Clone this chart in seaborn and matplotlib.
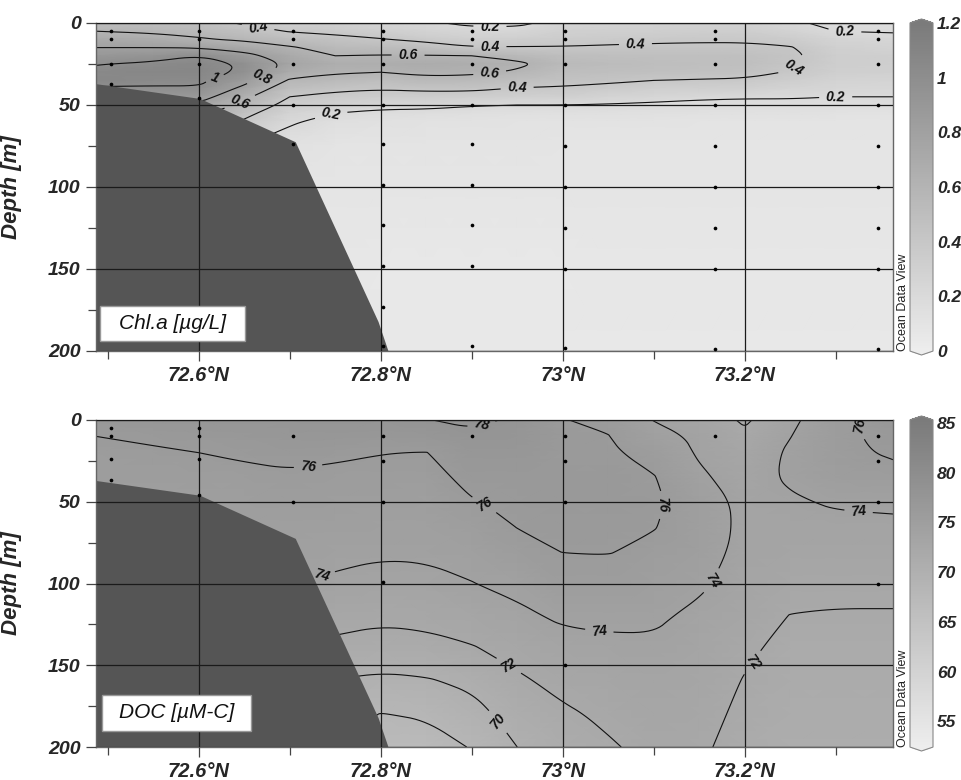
import numpy as np
import matplotlib
matplotlib.use('Agg')
import matplotlib.pyplot as plt
import seaborn as sns
from matplotlib.colors import LinearSegmentedColormap
from matplotlib.ticker import FuncFormatter
from matplotlib.patches import Rectangle
from matplotlib.path import Path

# Section grid: latitude (°N) of the profiles
grid_lat = [72.487, 72.55, 72.6, 72.65, 72.7, 72.75, 72.8, 72.85, 72.9,
            72.95, 73.0, 73.05, 73.1, 73.15, 73.2, 73.25, 73.3, 73.363]

# Chl.a [ug/L] profiles, one list per latitude, at chl_depth
chl_depth = [0, 5, 10, 15, 20, 25, 30, 35, 40, 45, 50, 55, 60, 75, 100, 150, 200]
chl_profiles = [
    [0.50, 0.60, 0.70, 0.80, 0.90, 0.99, 1.05, 1.06, 0.98, 0.88, 0.78, 0.68, 0.58, 0.40, 0.25, 0.12, 0.10],
    [0.50, 0.57, 0.68, 0.80, 0.93, 1.03, 1.07, 1.04, 0.98, 0.88, 0.78, 0.68, 0.58, 0.40, 0.25, 0.12, 0.10],
    [0.47, 0.54, 0.62, 0.79, 1.00, 1.06, 1.07, 1.04, 0.98, 0.88, 0.76, 0.65, 0.55, 0.38, 0.22, 0.10, 0.08],
    [0.38, 0.47, 0.57, 0.72, 0.86, 0.98, 0.97, 0.86, 0.75, 0.64, 0.55, 0.45, 0.38, 0.20, 0.12, 0.08, 0.07],
    [0.32, 0.39, 0.50, 0.62, 0.70, 0.75, 0.68, 0.58, 0.48, 0.40, 0.33, 0.27, 0.22, 0.12, 0.09, 0.07, 0.07],
    [0.30, 0.36, 0.45, 0.53, 0.60, 0.66, 0.62, 0.53, 0.43, 0.36, 0.29, 0.20, 0.15, 0.10, 0.08, 0.07, 0.07],
    [0.25, 0.32, 0.41, 0.52, 0.61, 0.67, 0.60, 0.50, 0.41, 0.34, 0.24, 0.17, 0.13, 0.10, 0.08, 0.06, 0.06],
    [0.22, 0.28, 0.36, 0.48, 0.61, 0.68, 0.64, 0.55, 0.43, 0.34, 0.24, 0.16, 0.12, 0.10, 0.08, 0.06, 0.06],
    [0.17, 0.24, 0.32, 0.41, 0.60, 0.66, 0.63, 0.54, 0.43, 0.33, 0.21, 0.15, 0.12, 0.10, 0.08, 0.06, 0.06],
    [0.17, 0.24, 0.33, 0.41, 0.55, 0.63, 0.58, 0.49, 0.39, 0.30, 0.20, 0.14, 0.11, 0.10, 0.08, 0.06, 0.06],
    [0.25, 0.30, 0.35, 0.41, 0.50, 0.53, 0.50, 0.45, 0.38, 0.30, 0.20, 0.14, 0.11, 0.09, 0.08, 0.06, 0.06],
    [0.27, 0.31, 0.36, 0.42, 0.49, 0.52, 0.49, 0.43, 0.35, 0.27, 0.19, 0.14, 0.11, 0.09, 0.08, 0.07, 0.06],
    [0.28, 0.32, 0.37, 0.43, 0.48, 0.50, 0.47, 0.40, 0.32, 0.24, 0.18, 0.14, 0.11, 0.09, 0.08, 0.07, 0.06],
    [0.28, 0.33, 0.38, 0.43, 0.48, 0.49, 0.46, 0.39, 0.31, 0.22, 0.17, 0.13, 0.10, 0.09, 0.08, 0.07, 0.06],
    [0.28, 0.33, 0.38, 0.43, 0.47, 0.48, 0.45, 0.38, 0.30, 0.21, 0.17, 0.13, 0.10, 0.09, 0.08, 0.07, 0.06],
    [0.22, 0.28, 0.35, 0.41, 0.43, 0.42, 0.39, 0.33, 0.27, 0.21, 0.17, 0.13, 0.10, 0.09, 0.08, 0.07, 0.06],
    [0.17, 0.20, 0.26, 0.30, 0.33, 0.33, 0.31, 0.28, 0.24, 0.20, 0.16, 0.12, 0.10, 0.09, 0.08, 0.07, 0.06],
    [0.15, 0.19, 0.24, 0.28, 0.31, 0.32, 0.30, 0.27, 0.23, 0.20, 0.16, 0.12, 0.10, 0.09, 0.08, 0.07, 0.06],
]

# DOC [uM-C] profiles, one list per latitude, at doc_depth
doc_depth = [0, 10, 20, 35, 50, 65, 80, 100, 120, 140, 160, 180, 200]
doc_profiles = [
    [77.0, 76.0, 75.6, 75.3, 75.0, 74.8, 74.6, 74.3, 73.5, 72.5, 71.5, 70.5, 70.0],
    [77.2, 76.4, 75.7, 75.3, 75.0, 74.8, 74.6, 74.2, 73.5, 72.5, 71.5, 70.5, 70.0],
    [77.3, 76.7, 76.0, 75.4, 75.1, 74.85, 74.6, 74.2, 73.4, 72.4, 71.4, 70.4, 69.8],
    [77.4, 76.9, 76.3, 75.5, 75.2, 74.9, 74.6, 74.1, 73.3, 72.2, 71.2, 70.2, 69.5],
    [77.5, 77.1, 76.6, 75.7, 75.3, 75.0, 74.6, 74.05, 73.1, 71.8, 70.6, 69.5, 68.8],
    [77.6, 77.1, 76.3, 75.6, 75.2, 74.9, 74.5, 73.7, 72.7, 71.5, 69.9, 68.6, 68.0],
    [77.5, 77.0, 76.05, 75.5, 75.1, 74.7, 74.25, 73.4, 72.4, 71.1, 69.6, 67.95, 67.0],
    [77.95, 77.2, 75.95, 75.4, 75.0, 74.65, 74.3, 73.5, 72.6, 71.3, 69.8, 68.2, 67.2],
    [78.3, 77.7, 77.2, 76.5, 75.9, 75.2, 74.6, 73.95, 72.9, 71.85, 70.4, 69.3, 68.1],
    [77.8, 77.5, 77.1, 76.7, 76.35, 76.05, 75.5, 74.5, 73.6, 72.6, 71.7, 70.8, 70.0],
    [76.05, 76.2, 76.35, 76.5, 76.5, 76.3, 76.05, 75.3, 74.3, 73.3, 72.5, 71.7, 71.2],
    [75.7, 76.05, 76.3, 76.5, 76.55, 76.4, 76.1, 75.3, 74.4, 73.6, 72.9, 72.35, 71.8],
    [73.95, 74.6, 75.3, 76.1, 76.3, 76.1, 75.6, 74.9, 74.3, 73.7, 73.2, 72.8, 72.5],
    [73.3, 73.7, 73.8, 74.3, 75.0, 75.0, 74.8, 74.3, 73.6, 73.2, 72.9, 72.6, 72.3],
    [71.7, 72.4, 72.8, 73.2, 73.5, 73.6, 73.5, 73.2, 72.8, 72.3, 71.9, 71.6, 71.3],
    [73.6, 73.95, 74.3, 74.3, 73.75, 73.4, 73.1, 72.6, 71.95, 71.5, 71.3, 71.1, 71.0],
    [75.3, 75.5, 75.6, 75.2, 74.25, 73.5, 73.1, 72.5, 71.85, 71.5, 71.3, 71.1, 71.0],
    [77.0, 76.6, 76.2, 75.5, 74.4, 73.6, 73.15, 72.5, 71.85, 71.5, 71.3, 71.1, 71.0],
]

# sea floor outline (lat, depth)
topo_lat = [72.487, 72.601, 72.706, 72.797, 72.808]
topo_depth = [37, 46, 72.4, 182, 200]

# sample positions
chl_st_lat = [72.503] * 4 + [72.6] * 4 + [72.704] * 5 + [72.802] * 10 + [72.9] * 9 \
    + [73.003] * 9 + [73.167] * 9 + [73.346] * 9
chl_st_depth = [5, 10, 25, 37, 5, 10, 25, 46, 5, 10, 25, 50, 74,
                5, 10, 25, 50, 74, 99, 123, 148, 173, 197,
                5, 10, 25, 50, 74, 99, 123, 148, 197,
                5, 10, 25, 50, 75, 100, 125, 150, 198,
                5, 10, 25, 50, 75, 100, 125, 150, 199,
                5, 10, 25, 50, 75, 100, 125, 150, 199]
doc_st_lat = [72.503] * 4 + [72.6] * 4 + [72.704] * 2 + [72.802] * 4 + [72.9] \
    + [73.003] * 4 + [73.167] + [73.346] * 4
doc_st_depth = [5, 10, 24, 37, 5, 10, 24, 46, 10, 50, 10, 25, 50, 99, 10,
                10, 25, 50, 150, 10, 10, 25, 50, 100]

chl_levels = [0.2, 0.4, 0.6, 0.8, 1.0]
doc_levels = [68, 70, 72, 74, 76, 78]
chl_cticks = [0, 0.2, 0.4, 0.6, 0.8, 1.0, 1.2]
doc_cticks = [55, 60, 65, 70, 75, 80, 85]
lat_major = [72.6, 72.8, 73.0, 73.2]
lat_minor = [72.5, 72.7, 72.9, 73.1, 73.3]

chl_label_pos = [(72.665, 3), (72.83, 19), (72.62, 37), (72.668, 31), (72.645, 48),
                 (72.745, 55), (72.92, 2), (72.92, 14.4), (72.92, 32), (72.95, 41),
                 (73.08, 14.5), (73.26, 33.5), (73.3, 45), (73.31, 5)]
doc_label_pos = [(72.72, 28), (72.91, 1), (72.91, 55), (73.11, 52), (72.735, 96),
                 (73.04, 130), (73.16, 97), (73.325, 57), (73.345, 2),
                 (72.94, 151), (72.93, 184), (73.2, 145)]

sns.set_theme(style='white')
plt.rcParams['font.family'] = ['Liberation Sans', 'DejaVu Sans']

odv_gray = LinearSegmentedColormap.from_list('odv_gray', ['#ededed', '#7b7b7b'])

W, H = 962, 780
fig = plt.figure(figsize=(W / 100, H / 100), dpi=100)


def px_axes(x0, y0, x1, y1):
    return fig.add_axes([x0 / W, 1 - y1 / H, (x1 - x0) / W, (y1 - y0) / H])


def bold_italic(texts, size):
    for t in texts:
        t.set_fontweight('bold')
        t.set_fontstyle('italic')
        t.set_fontsize(size)


def chaikin(v, n=3):
    # corner cutting, keeps the end points of each line
    for _ in range(n):
        if len(v) < 3:
            return v
        q = 0.75 * v[:-1] + 0.25 * v[1:]
        r = 0.25 * v[:-1] + 0.75 * v[1:]
        mid = np.empty((2 * len(q), 2))
        mid[0::2] = q
        mid[1::2] = r
        v = np.vstack([v[:1], mid, v[-1:]])
    return v


def smooth_contours(cs):
    paths = cs.get_paths()
    for i, p in enumerate(paths):
        if len(p.vertices) == 0:
            continue
        codes = p.codes if p.codes is not None else np.full(len(p.vertices), Path.LINETO)
        verts, new_codes, seg = [], [], []
        for xy, c in zip(p.vertices, codes):
            if c == Path.MOVETO and seg:
                verts.append(chaikin(np.array(seg)))
                seg = []
            if c == Path.CLOSEPOLY:
                seg.append(seg[0])
            else:
                seg.append(xy)
        if seg:
            verts.append(chaikin(np.array(seg)))
        for s in verts:
            new_codes += [Path.MOVETO] + [Path.LINETO] * (len(s) - 1)
        paths[i] = Path(np.vstack(verts), new_codes)


def draw_section(ax, cax, depths, profiles, levels, vmin, vmax, cticks,
                 st_lat, st_depth, title, label_pos, box):
    Z = np.array(profiles).T
    mesh = ax.pcolormesh(grid_lat, depths, Z, shading='gouraud', cmap=odv_gray,
                         vmin=vmin, vmax=vmax, zorder=1)
    cs = ax.contour(grid_lat, depths, Z, levels=levels, colors='#111111',
                    linewidths=0.8, zorder=1.5)
    smooth_contours(cs)
    labels = ax.clabel(cs, fmt=lambda v: f'{v:g}', inline=True, inline_spacing=5,
                       manual=label_pos)
    bold_italic(labels, 10)

    # sea floor
    ax.fill_between(topo_lat, topo_depth, 200, color='#555555', lw=0, zorder=2)

    sns.scatterplot(x=st_lat, y=st_depth, ax=ax, color='black', s=7,
                    linewidth=0, legend=False, zorder=4)

    ax.set_xlim(grid_lat[0], grid_lat[-1])
    ax.set_ylim(200, 0)
    ax.set_axisbelow(False)
    ax.set_xticks(lat_major)
    ax.set_xticks(lat_minor, minor=True)
    ax.set_yticks([0, 50, 100, 150, 200])
    ax.set_yticks([25, 75, 125, 175], minor=True)
    ax.xaxis.set_major_formatter(FuncFormatter(lambda v, p: f'{v:g}°N'))
    ax.grid(True, which='major', color='#1a1a1a', lw=0.9)
    ax.tick_params(which='both', direction='out', color='#444444', width=0.9,
                   bottom=True, left=True)
    ax.tick_params(which='major', length=7, pad=4)
    ax.tick_params(which='minor', length=6)
    bold_italic(ax.get_xticklabels(), 14.5)
    bold_italic(ax.get_yticklabels(), 14)
    for s in ax.spines.values():
        s.set_color('#666666')
        s.set_linewidth(1)
    ax.set_xlabel('')
    ax.set_ylabel('Depth [m]', fontsize=16, fontweight='bold', fontstyle='italic')
    ax.yaxis.set_label_coords((22 - 96) / 797, 0.5)

    bx, by, bw, bh = box
    ax.add_patch(Rectangle((bx, by), bw, bh, transform=ax.transAxes,
                           facecolor='white', edgecolor='#999999', lw=1, zorder=5))
    ax.text(bx + bw / 2, by + bh / 2, title, transform=ax.transAxes, ha='center',
            va='center', fontsize=15, fontstyle='italic', color='#111111', zorder=6)

    cb = fig.colorbar(mesh, cax=cax, extend='both', extendfrac=0.012, ticks=cticks)
    cb.outline.set_edgecolor('#888888')
    cb.outline.set_linewidth(0.8)
    cax.yaxis.set_major_formatter(FuncFormatter(lambda v, p: f'{v:g}'))
    cax.tick_params(length=0, pad=3)
    bold_italic(cax.get_yticklabels(), 12.5)
    return ax


ax_chl = px_axes(96, 23, 893, 351)
ax_doc = px_axes(96, 420, 893, 747)
cax_chl = px_axes(910, 19, 933, 355)
cax_doc = px_axes(910, 416, 933, 751)

draw_section(ax_chl, cax_chl, chl_depth, chl_profiles, chl_levels, 0, 1.2, chl_cticks,
             chl_st_lat, chl_st_depth, 'Chl.a [µg/L]', chl_label_pos,
             (0.005, 0.03, 0.182, 0.107))
draw_section(ax_doc, cax_doc, doc_depth, doc_profiles, doc_levels, 52.4, 85.3, doc_cticks,
             doc_st_lat, doc_st_depth, 'DOC [µM-C]', doc_label_pos,
             (0.0075, 0.049, 0.187, 0.11))

for y_bottom in (351, 747):
    fig.text(903 / W, 1 - y_bottom / H, 'Ocean Data View', rotation=90, ha='center',
             va='bottom', fontsize=9, color='#222222')

fig.savefig('out.png', dpi=100, facecolor='white')
